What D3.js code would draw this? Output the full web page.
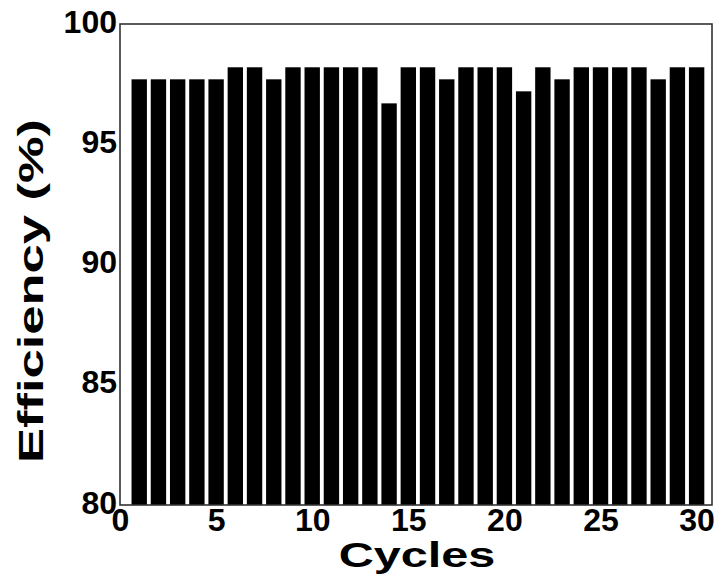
<!DOCTYPE html>
<html>
<head>
<meta charset="utf-8">
<script src="https://cdn.jsdelivr.net/npm/d3@7"></script>
<style>
  body { margin: 0; background: #fff; }
  text { font-family: "Liberation Sans", Arial, sans-serif; font-weight: bold; fill: #000; }
</style>
</head>
<body>
<svg id="chart"></svg>
<script>
// cycle number and efficiency (%)
let cycles = d3.range(1, 31)
let efficiency = [
  97.7, 97.7, 97.7, 97.7, 97.7, 98.2, 98.2, 97.7, 98.2, 98.2,
  98.2, 98.2, 98.2, 96.7, 98.2, 98.2, 97.7, 98.2, 98.2, 98.2,
  97.2, 98.2, 97.7, 98.2, 98.2, 98.2, 98.2, 97.7, 98.2, 98.2
]
let xTicks = [0, 5, 10, 15, 20, 25, 30]
let yTicks = [80, 85, 90, 95, 100]

let chartObj = cycles.map(function(c, i) {
  return { cycle: c, eff: efficiency[i] }
})

let width = 723
let height = 587
let margin = { top: 24, right: 11, bottom: 82, left: 120 }

let x = d3.scaleLinear()
  .domain([0, 30.8])
  .range([margin.left, width - margin.right])

let y = d3.scaleLinear()
  .domain([80, 100])
  .range([height - margin.bottom, margin.top])

let barWidth = x(0.8) - x(0)

let svg = d3.select("#chart")
  .attr("width", width)
  .attr("height", height)

// bars
svg.append("g")
  .selectAll("rect")
  .data(chartObj)
  .enter()
  .append("rect")
  .attr("x", function(d) { return x(d.cycle) - barWidth / 2 })
  .attr("y", function(d) { return y(d.eff) })
  .attr("width", barWidth)
  .attr("height", function(d) { return y(80) - y(d.eff) })
  .attr("fill", "#000")

// frame
svg.append("rect")
  .attr("x", x(0))
  .attr("y", y(100))
  .attr("width", x(30.8) - x(0))
  .attr("height", y(80) - y(100))
  .attr("fill", "none")
  .attr("stroke", "#333")
  .attr("stroke-width", 1.6)

// axes, no tick marks
let xAxis = d3.axisBottom(x)
  .tickValues(xTicks)
  .tickSize(0)
  .tickPadding(3)

let yAxis = d3.axisLeft(y)
  .tickValues(yTicks)
  .tickSize(0)
  .tickPadding(3)

let gx = svg.append("g")
  .attr("id", "x-axis")
  .attr("transform", "translate(0," + y(80) + ")")
  .call(xAxis)

let gy = svg.append("g")
  .attr("id", "y-axis")
  .attr("transform", "translate(" + x(0) + ",0)")
  .call(yAxis)

gx.select(".domain").remove()
gy.select(".domain").remove()

gx.selectAll("text")
  .attr("font-size", 32)
  .attr("dy", "0.71em")
  .style("font-family", "'Liberation Sans', Arial, sans-serif")

gy.selectAll("text")
  .attr("font-size", 32)
  .attr("dy", "0.25em")
  .style("font-family", "'Liberation Sans', Arial, sans-serif")

// axis titles
svg.append("text")
  .attr("transform", "translate(417,567) scale(1.35,1)")
  .attr("text-anchor", "middle")
  .attr("font-size", 36)
  .text("Cycles")

svg.append("text")
  .attr("transform", "translate(43,291) rotate(-90) scale(1.5,1)")
  .attr("text-anchor", "middle")
  .attr("font-size", 35)
  .text("Efficiency (%)")
</script>
</body>
</html>
